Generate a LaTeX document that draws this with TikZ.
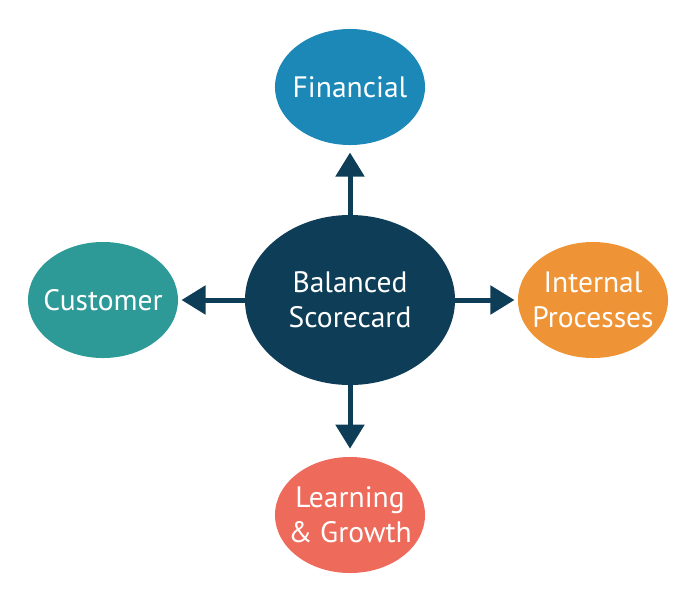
\documentclass[tikz,border=0pt]{standalone}
\usepackage{fontspec}
\setmainfont{PT Sans}
\usetikzlibrary{shapes.geometric,arrows.meta}
\definecolor{bscdark}{HTML}{0E3E57}
\definecolor{bscblue}{HTML}{1C88B8}
\definecolor{bscteal}{HTML}{2E9A98}
\definecolor{bscorange}{HTML}{EE9436}
\definecolor{bscred}{HTML}{EE6A5A}
\tikzset{
    part/.style={
        ellipse,fill=#1,text=white,align=center,inner sep=-0.4cm,
        minimum width=3.75cm,minimum height=2.9cm,
        font=\fontsize{21}{25}\selectfont
    },
    centre/.style={
        ellipse,fill=bscdark,text=white,align=center,inner sep=-0.4cm,
        minimum width=5.25cm,minimum height=4.25cm,
        font=\fontsize{21}{25}\selectfont
    },
    link/.style={
        draw=bscdark,line width=0.125cm,
        -{Triangle[width=0.7cm,length=0.6cm]},shorten >=#1
    },
}

\begin{document}
\begin{tikzpicture}[x=0.025cm,y=-0.025cm]
\useasboundingbox (0,0) rectangle (700,600);
\node[centre] (bsc) at (350,300) {Balanced\\Scorecard};
\node[part=bscblue] (fin) at (350,87) {Financial};
\node[part=bscteal] (cus) at (103,300) {Customer};
\node[part=bscorange] (int) at (593,300) {Internal\\Processes};
\node[part=bscred] (lea) at (350,515) {Learning\\\& Growth};
\draw[link=0.18cm] (bsc) -- (fin);
\draw[link=0.08cm] (bsc) -- (cus);
\draw[link=0.08cm] (bsc) -- (int);
\draw[link=0.2cm] (bsc) -- (lea);
\end{tikzpicture}
\end{document}
